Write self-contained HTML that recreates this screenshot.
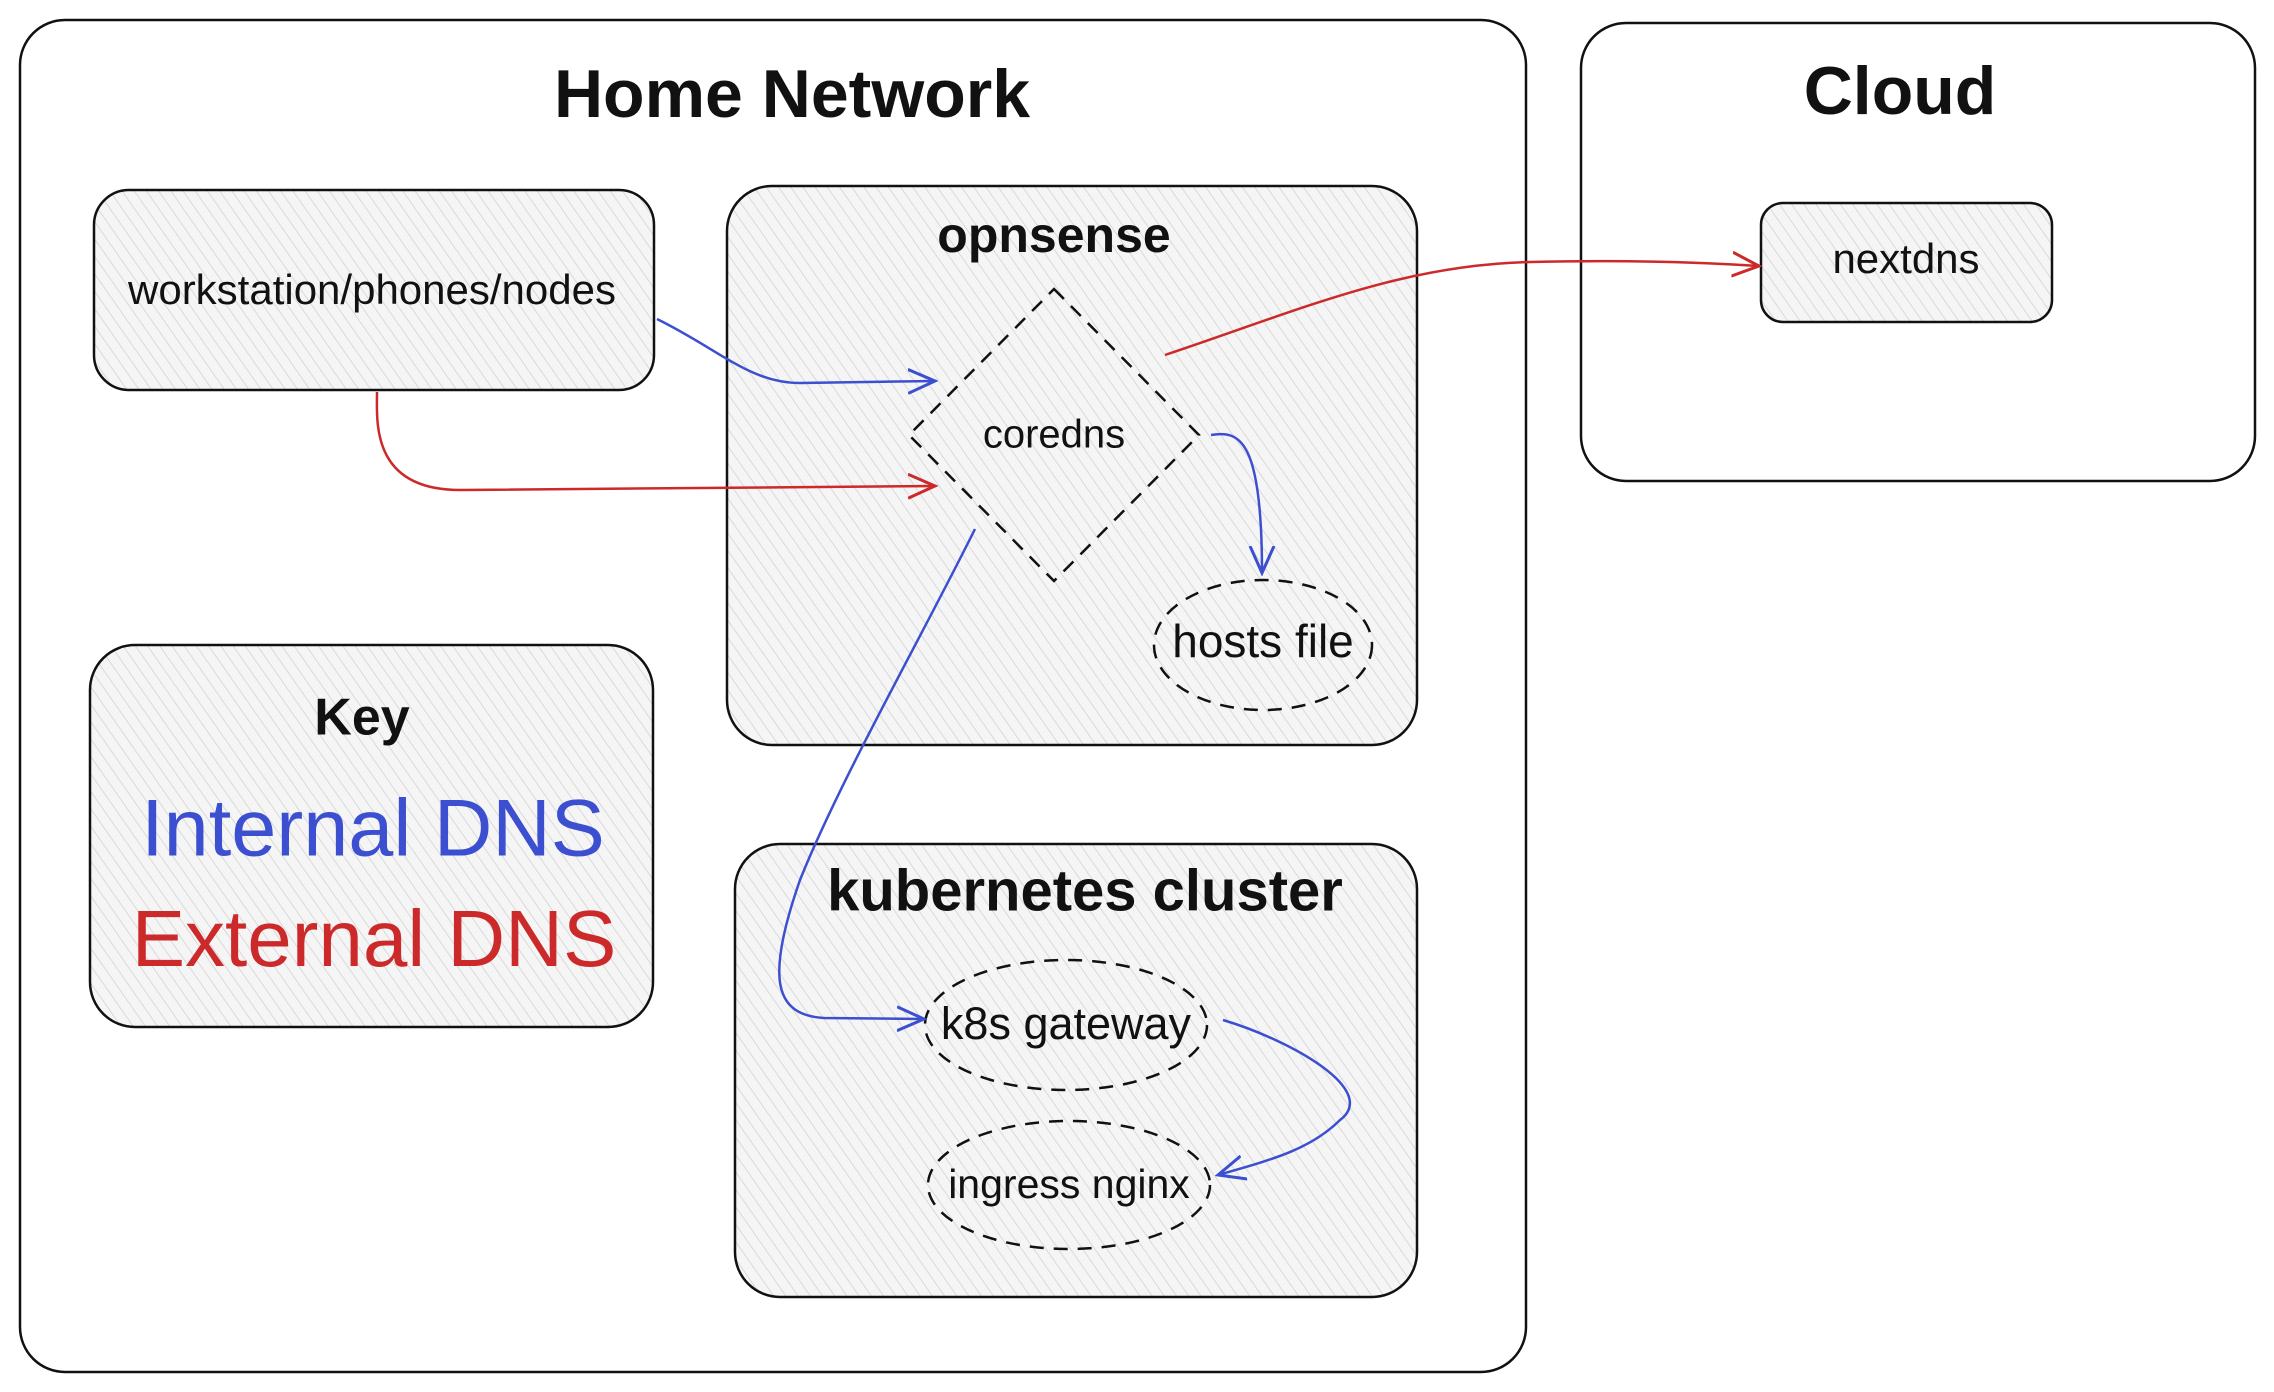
<!DOCTYPE html>
<html><head><meta charset="utf-8"><style>
html,body{margin:0;padding:0;background:#fff;}
svg{display:block;}
text{font-family:"Liberation Sans",sans-serif;fill:#111;text-anchor:middle;dominant-baseline:middle;}
</style></head><body>
<svg width="2274" height="1392" viewBox="0 0 2274 1392" xmlns="http://www.w3.org/2000/svg">
<defs>
<pattern id="h" width="10" height="10" patternUnits="userSpaceOnUse" patternTransform="rotate(-35)">
<rect width="10" height="10" fill="#f5f5f5"/>
<line x1="0" y1="0" x2="0" y2="10" stroke="#d0d0d0" stroke-width="1.5"/>
</pattern>
<marker id="ab" viewBox="0 0 20 20" refX="18" refY="10" markerWidth="30" markerHeight="30" markerUnits="userSpaceOnUse" orient="auto">
<path d="M0,2 L18,10 L0,18" fill="none" stroke="#3b4fd0" stroke-width="2"/></marker>
<marker id="ar" viewBox="0 0 20 20" refX="18" refY="10" markerWidth="30" markerHeight="30" markerUnits="userSpaceOnUse" orient="auto">
<path d="M0,2 L18,10 L0,18" fill="none" stroke="#cc2a2a" stroke-width="2"/></marker>
</defs>
<g fill="none" stroke="#111" stroke-width="2.5">
<rect x="20" y="20" width="1506" height="1352" rx="45"/>
<rect x="1581" y="23" width="674" height="458" rx="45"/>
<rect x="94" y="190" width="560" height="200" rx="35" fill="url(#h)"/>
<rect x="727" y="186" width="690" height="559" rx="45" fill="url(#h)"/>
<rect x="90" y="645" width="563" height="382" rx="45" fill="url(#h)"/>
<rect x="735" y="844" width="682" height="453" rx="45" fill="url(#h)"/>
<rect x="1761" y="203" width="291" height="119" rx="22" fill="url(#h)"/>
</g>
<g fill="none" stroke="#111" stroke-width="2.5" stroke-dasharray="14 10">
<path d="M1054,289 L1199,435 L1054,581 L909,435 Z"/>
<ellipse cx="1263" cy="645" rx="109" ry="65"/>
<ellipse cx="1066" cy="1025" rx="141" ry="65"/>
<ellipse cx="1069" cy="1185" rx="141" ry="64"/>
</g>
<g fill="none" stroke-width="2.5">
<path d="M657,319 C720,350 750,383 800,383 L935,381" stroke="#3b4fd0" marker-end="url(#ab)"/>
<path d="M377,392 C377,420 370,490 460,490 L935,486" stroke="#cc2a2a" marker-end="url(#ar)"/>
<path d="M1165,355 C1300,310 1400,265 1530,262 C1620,260 1700,262 1759,266" stroke="#cc2a2a" marker-end="url(#ar)"/>
<path d="M1211,435 C1240,430 1262,440 1262,573" stroke="#3b4fd0" marker-end="url(#ab)"/>
<path d="M975,529 C920,640 840,780 800,880 C765,980 775,1015 824,1018 L924,1019" stroke="#3b4fd0" marker-end="url(#ab)"/>
<path d="M1223,1020 C1290,1040 1380,1090 1340,1120 C1310,1150 1270,1160 1218,1175" stroke="#3b4fd0" marker-end="url(#ab)"/>
</g>
<text x="792" y="99" font-size="68" font-weight="bold">Home Network</text>
<text x="1900" y="96" font-size="68" font-weight="bold">Cloud</text>
<text x="1054" y="239" font-size="50" font-weight="bold">opnsense</text>
<text x="372" y="293" font-size="42">workstation/phones/nodes</text>
<text x="362" y="721" font-size="52" font-weight="bold">Key</text>
<text x="373" y="834" font-size="81" style="fill:#3b4fd0">Internal DNS</text>
<text x="374" y="945" font-size="80" style="fill:#cc2a2a">External DNS</text>
<text x="1085" y="895" font-size="58" font-weight="bold">kubernetes cluster</text>
<text x="1906" y="262" font-size="42">nextdns</text>
<text x="1054" y="437" font-size="40">coredns</text>
<text x="1263" y="645" font-size="46">hosts file</text>
<text x="1066" y="1027" font-size="45">k8s gateway</text>
<text x="1069" y="1187" font-size="41">ingress nginx</text>
</svg>
</body></html>
